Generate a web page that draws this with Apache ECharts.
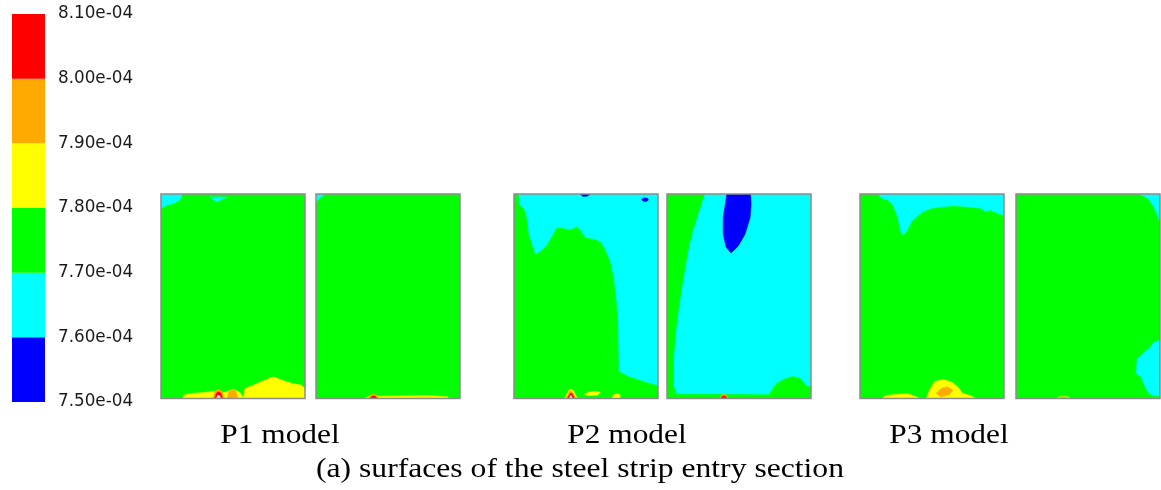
<!DOCTYPE html>
<html>
<head>
<meta charset="utf-8">
<style>
  html, body { margin: 0; padding: 0; background: #ffffff; }
  #chart { width: 1161px; height: 490px; }
</style>
<script src="https://cdn.jsdelivr.net/npm/echarts@6/dist/echarts.min.js"></script>
</head>
<body>
<div id="chart"></div>
<script>
// Contour levels (band i spans levelTicks[i] .. levelTicks[i+1]); band 6 = above range
const levelTicks = ['7.50e-04', '7.60e-04', '7.70e-04', '7.80e-04', '7.90e-04', '8.00e-04', '8.10e-04'];
const bandColors = ['#0000ff', '#00ffff', '#00ff00', '#ffff00', '#ffaa00', '#ff0000', '#e4e4e4'];
const modelNames = ['P1 model', 'P2 model', 'P3 model'];
const captionText = '(a) surfaces of the steel strip entry section';

// Contour regions per surface: [band, polygon], x 0..100 across, y 0..100 from top edge
const p1Left = [
  [2, [[0, 0], [100, 0], [100, 100], [0, 100]]],
  [1, [[0, 0], [15, 0], [13, 3], [9, 4.5], [4, 5.5], [0, 7]]],
  [1, [[34, 1.5], [46, 1.5], [41, 3], [39, 4], [37, 3]]],
  [3, [[57.2, 100], [58.3, 95.1], [65.3, 93.1], [72.2, 91], [78, 89.4], [83.8, 91], [90.7, 92.6], [97.7, 93.5], [100, 95.4], [100, 100]]],
  [3, [[15.5, 100], [15.5, 98.4], [21.3, 97.5], [30.6, 97.1], [36.3, 96.4], [42.1, 97.5], [45.6, 96.7], [50.2, 95.6], [54.9, 97.1], [57.2, 100]]],
  [4, [[36, 100], [37.5, 96.5], [40, 95.5], [42.5, 96.5], [44, 100]]],
  [5, [[37.3, 100], [38.5, 97.3], [40, 96.7], [41.5, 97.3], [42.7, 100]]],
  [6, [[38.5, 100], [39.3, 98.5], [40.7, 98.5], [41.5, 100]]],
  [4, [[46, 100], [47, 97], [49.5, 95.5], [52, 96.5], [53, 100]]]
];
const p1Right = [
  [2, [[0, 0], [100, 0], [100, 100], [0, 100]]],
  [1, [[0, 0], [6, 0], [2, 2.5], [0, 4]]],
  [3, [[34, 100], [36, 99], [60, 98.8], [75, 98.5], [91.5, 99.2], [92, 100]]],
  [4, [[36.5, 100], [38, 98.3], [40, 97.9], [42, 98.3], [43.5, 100]]],
  [5, [[37.5, 100], [39, 98.8], [41, 98.8], [42.5, 100]]]
];
const p2Left = [
  [1, [[0, 0], [100, 0], [100, 100], [0, 100]]],
  [2, [[0, 0], [3, 0], [3.2, 4.7], [7.9, 8.8], [10.2, 20.2], [14.8, 29.9], [19.4, 27.5], [22.9, 25], [26.3, 21], [29.8, 16.6], [34.4, 16.9], [39, 17.7], [43.6, 16.1], [46, 17.7], [49.4, 21.5], [55.2, 22.1], [59.8, 23.4], [63.3, 27.5], [66.7, 33.2], [69.1, 41.3], [70.9, 52.7], [72.1, 64.1], [72.5, 86.8], [79.4, 89.3], [86.4, 90.9], [93.3, 92.5], [100, 93.8], [100, 100], [0, 100]]],
  [0, [[46, 0], [53, 0], [51, 1], [48, 1.2]]],
  [0, [[88.5, 2.8], [90, 2], [92.5, 2], [93.5, 2.8], [92, 3.6], [90, 3.6]]],
  [3, [[35, 100], [38, 96], [39.5, 95.3], [41, 96], [44, 100]]],
  [4, [[36, 100], [38.5, 96.7], [39.5, 96.2], [40.5, 96.7], [43, 100]]],
  [5, [[37, 100], [39, 97.5], [40, 97.3], [42, 100]]],
  [6, [[38.3, 100], [39.5, 98.3], [40.7, 100]]],
  [3, [[49, 98], [52, 96.8], [57, 96.5], [60, 97], [58, 98.3], [52, 98.5]]],
  [3, [[68, 100], [69, 98.2], [71.5, 97.6], [73.7, 98.3], [73.7, 100]]]
];
const p2Right = [
  [1, [[0, 0], [100, 0], [100, 100], [0, 100]]],
  [2, [[0, 0], [26, 0], [24.5, 3], [21, 11], [17.5, 18.6], [14.5, 28], [12, 38], [10, 46.5], [8, 56], [6, 67], [4.5, 80], [4.2, 93.3], [6.5, 97.9], [70.5, 98.2], [76.3, 92.5], [82.1, 90.3], [87.2, 89.2], [92.6, 90.3], [97.2, 94.1], [100, 94.1], [100, 100], [0, 100]]],
  [0, [[41.5, 0], [58, 0], [58.4, 4.9], [57.7, 11.5], [54.2, 19.6], [49.5, 25.4], [44.5, 28.8], [41, 26], [39, 19.6], [39, 11.5], [40.5, 4.9]]],
  [4, [[36.5, 100], [38, 98.3], [39.6, 97.9], [41.3, 98.3], [42.7, 100]]],
  [5, [[37.5, 100], [38.6, 98.8], [40.6, 98.8], [41.7, 100]]]
];
const p3Left = [
  [2, [[0, 0], [100, 0], [100, 100], [0, 100]]],
  [1, [[12.6, 0], [100, 0], [100, 10.3], [95.4, 9.5], [90.8, 7.8], [87.4, 8.6], [83.9, 7], [74.7, 6.2], [65.5, 5.7], [56.3, 6.2], [49.4, 7], [43.7, 8.6], [39.1, 11.1], [35.6, 13.5], [32.2, 18.4], [29.9, 20.1], [28.3, 18.4], [26.4, 11.9], [23, 5.4], [19.5, 2.9], [14.9, 2.1]]],
  [3, [[16.1, 100], [17.2, 98.7], [24.1, 98], [33.3, 97.7], [39.1, 99.2], [41.4, 100]]],
  [3, [[46, 100], [48.3, 95.9], [51.7, 91.8], [57.5, 90.7], [63.2, 91.8], [67.8, 94.3], [71.3, 97.6], [75.9, 98.4], [80.5, 100]]],
  [4, [[52.9, 97.6], [56.3, 95.1], [60.9, 94.3], [64.4, 95.9], [62.1, 98], [56.3, 99.2]]]
];
const p3Right = [
  [2, [[0, 0], [100, 0], [100, 100], [0, 100]]],
  [1, [[84.6, 0], [100, 0], [100, 13.5], [97.2, 8.6], [94.9, 5.4], [91.5, 2.1], [88, 0.8]]],
  [1, [[100, 71.5], [96.1, 72.3], [92.6, 75.5], [89.2, 77.2], [86.9, 78.8], [84.1, 80.4], [83.4, 87.8], [86.9, 89.4], [89.2, 93.5], [91.5, 96.7], [94.9, 98.7], [100, 98.7]]],
  [3, [[28, 100], [30, 99.2], [36, 99.2], [38, 100]]],
  [4, [[29.5, 100], [31, 99.4], [35, 99.4], [36.5, 100]]]
];

const surfaces = [p1Left, p1Right, p2Left, p2Right, p3Left, p3Right];

// Layout of the six surface frames (pixels)
const frameLeft = [161, 316, 514, 667, 860, 1016];
const frameTop = 194;
const frameW = 144;
const frameH = 204.5;

const grids = [];
const xAxes = [];
const yAxes = [];
const series = [];

// Colour bar
grids.push({ left: 12, top: 14, width: 33, height: 388, show: false, containLabel: false });
xAxes.push({ gridIndex: 0, type: 'value', min: 0, max: 1, show: false });
yAxes.push({
  gridIndex: 0, type: 'value', min: 0, max: levelTicks.length - 1, interval: 1, position: 'right',
  axisLine: { show: false }, axisTick: { show: false }, splitLine: { show: false },
  axisLabel: {
    margin: 13, fontSize: 16.8, fontFamily: 'DejaVu Sans', color: '#1a1a1a',
    formatter: v => levelTicks[v]
  }
});
series.push({
  type: 'custom', xAxisIndex: 0, yAxisIndex: 0, silent: true,
  data: levelTicks.slice(0, -1).map((t, i) => [0, i]),
  renderItem: (params, api) => {
    const i = api.value(1);
    const a = api.coord([0, i + 1]);
    const b = api.coord([1, i]);
    return { type: 'rect', shape: { x: a[0], y: a[1], width: b[0] - a[0], height: b[1] - a[1] }, style: { fill: bandColors[i] } };
  }
});

// Surfaces
surfaces.forEach((regions, k) => {
  const g = k + 1;
  grids.push({
    left: frameLeft[k], top: frameTop, width: frameW, height: frameH,
    show: true, borderColor: '#8c8c8c', borderWidth: 1.5, backgroundColor: 'transparent', z: 10
  });
  xAxes.push({ gridIndex: g, type: 'value', min: 0, max: 100, show: false });
  yAxes.push({ gridIndex: g, type: 'value', min: 0, max: 100, inverse: true, show: false });
  series.push({
    type: 'custom', xAxisIndex: g, yAxisIndex: g, silent: true, clip: true,
    data: regions.map((r, i) => [r[1][0][0], r[1][0][1], i]),
    renderItem: (params, api) => {
      const r = regions[params.dataIndex];
      return {
        type: 'polygon',
        shape: { points: r[1].map(p => api.coord(p)) },
        style: { fill: bandColors[r[0]], stroke: bandColors[r[0]], lineWidth: 0.6 }
      };
    }
  });
});

// Model labels and caption
const labelCenters = [280, 627, 949];
const graphic = modelNames.map((name, i) => ({
  type: 'text', x: labelCenters[i], y: 436, scaleX: 1.12,
  style: { text: name, x: 0, y: 0, align: 'center', verticalAlign: 'middle', font: '28px "Liberation Serif"', fill: '#000' }
}));
graphic.push({
  type: 'text', x: 580, y: 470, scaleX: 1.13,
  style: { text: captionText, x: 0, y: 0, align: 'center', verticalAlign: 'middle', font: '28px "Liberation Serif"', fill: '#000' }
});

const chart = echarts.init(document.getElementById('chart'));
chart.setOption({
  animation: false,
  backgroundColor: '#ffffff',
  grid: grids,
  xAxis: xAxes,
  yAxis: yAxes,
  series: series,
  graphic: graphic
});
</script>
</body>
</html>
